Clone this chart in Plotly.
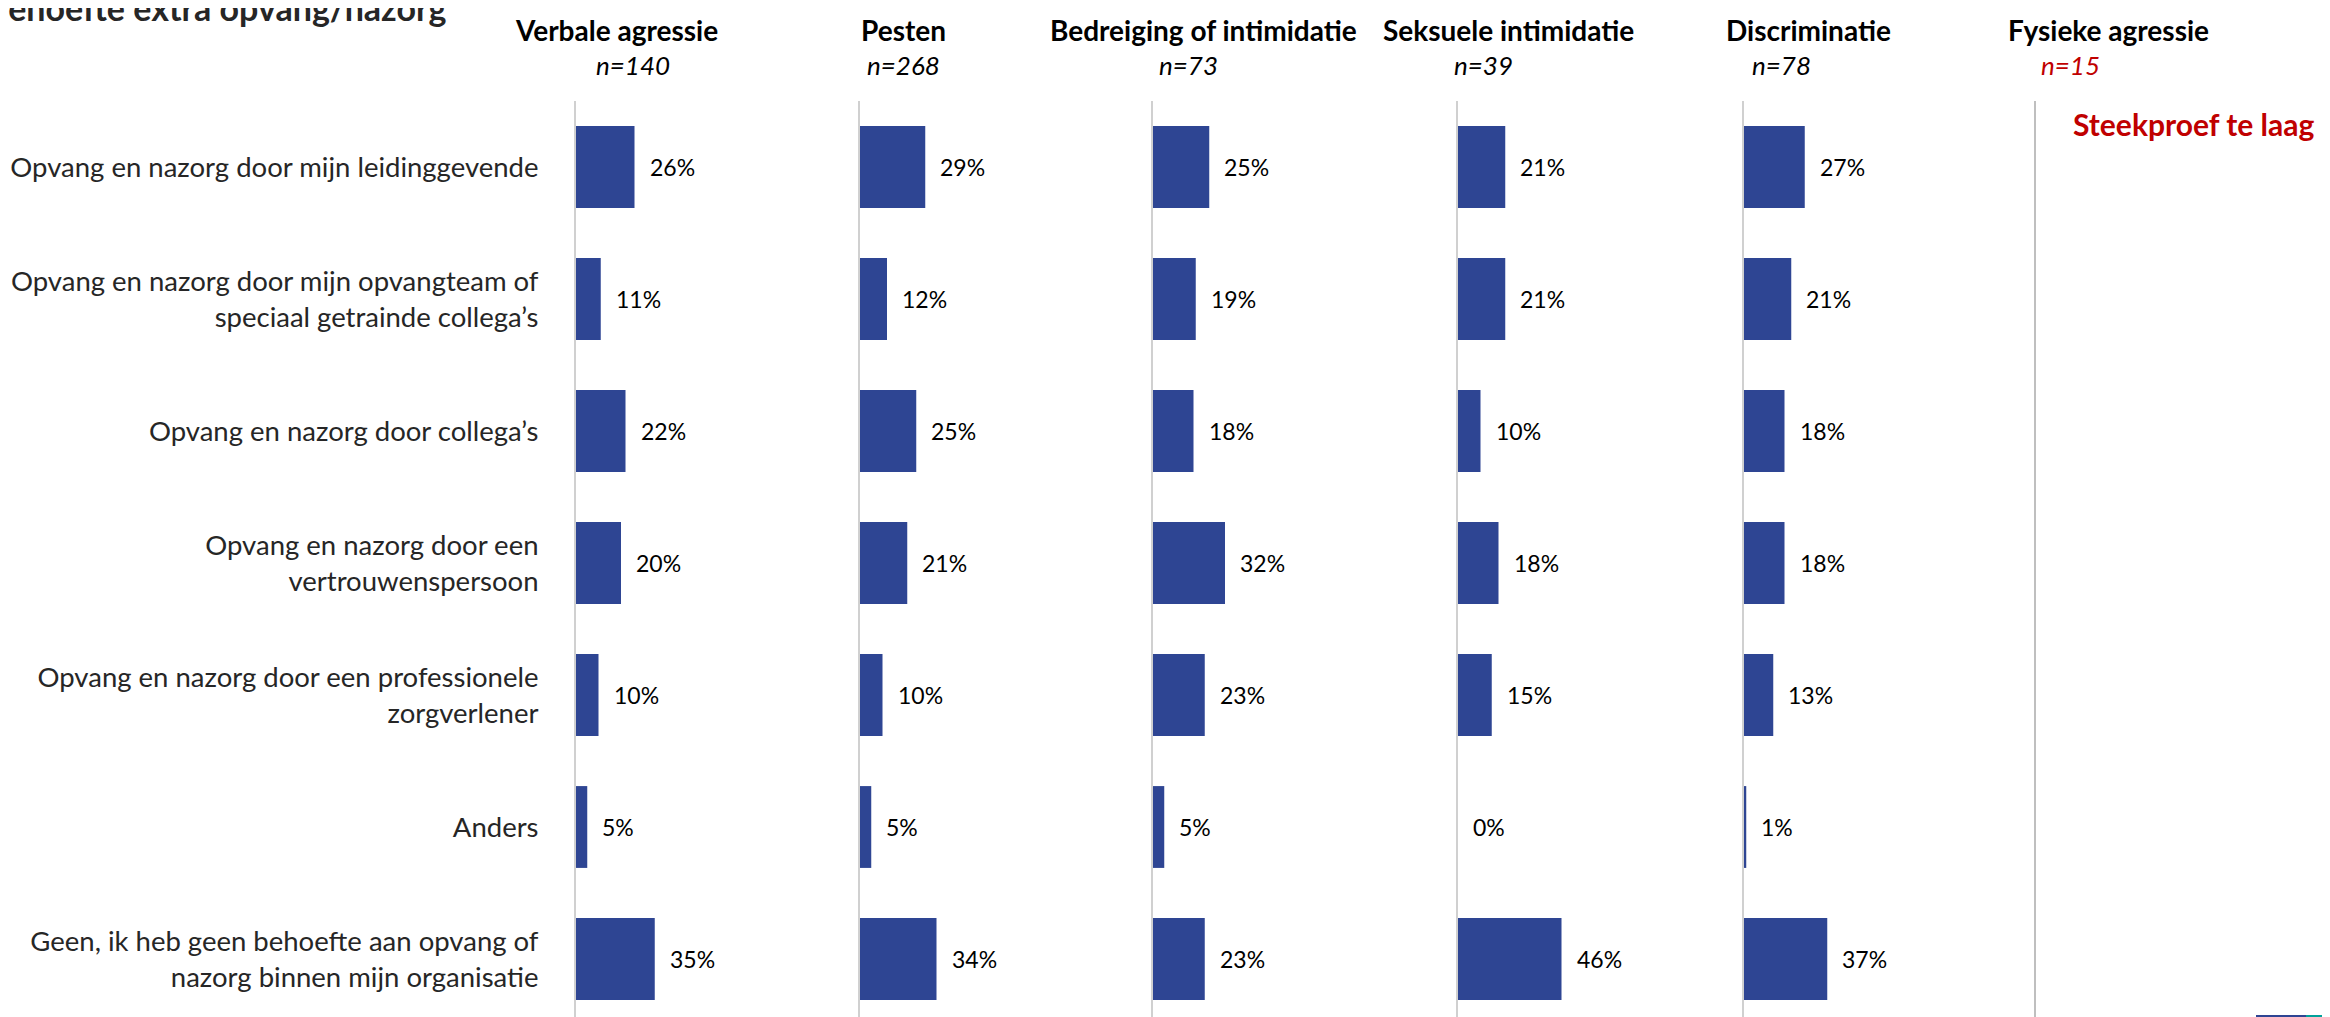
import plotly.graph_objects as go

categories = [
    "Opvang en nazorg door mijn leidinggevende",
    "Opvang en nazorg door mijn opvangteam of<br>speciaal getrainde collega’s",
    "Opvang en nazorg door collega’s",
    "Opvang en nazorg door een<br>vertrouwenspersoon",
    "Opvang en nazorg door een professionele<br>zorgverlener",
    "Anders",
    "Geen, ik heb geen behoefte aan opvang of<br>nazorg binnen mijn organisatie",
]
panels = ["Verbale agressie", "Pesten", "Bedreiging of intimidatie",
          "Seksuele intimidatie", "Discriminatie", "Fysieke agressie"]
sample_sizes = [140, 268, 73, 39, 78, 15]

verbale = [26, 11, 22, 20, 10, 5, 35]
pesten = [29, 12, 25, 21, 10, 5, 34]
bedreiging = [25, 19, 18, 32, 23, 5, 23]
seksueel = [21, 21, 10, 18, 15, 0, 46]
discriminatie = [27, 21, 18, 18, 13, 1, 37]
fysiek = None  # n=15: steekproef te laag

series = [verbale, pesten, bedreiging, seksueel, discriminatie, fysiek]

W, H = 2330, 1017
TOP = 93
axis_px = [568, 852, 1145, 1450, 1736, 2028]
header_px = [608, 895, 1195, 1500, 1800, 2100]
n_px = [625, 895, 1180, 1475, 1773, 2062]
panel_w = 250
px_per_pct = 2.25

FONT = "Lato"
BLUE = "#2E4593"
RED = "#C00000"


def py(p):
    # pixel row -> paper y
    return (H - p) / (H - TOP)


fig = go.Figure()
annotations = []

for i, vals in enumerate(series):
    k = "" if i == 0 else str(i + 1)
    xa, ya = "x" + k, "y" + k
    if vals is None:
        fig.add_trace(go.Bar(y=categories, x=[None] * len(categories), orientation="h",
                             xaxis=xa, yaxis=ya, showlegend=False, hoverinfo="skip"))
    else:
        fig.add_trace(go.Bar(y=categories, x=vals, orientation="h", xaxis=xa, yaxis=ya,
                             marker=dict(color=BLUE, line=dict(width=0)), showlegend=False))
        for c, v in zip(categories, vals):
            annotations.append(dict(x=v, y=c, xref=xa, yref=ya, text=f"{v}%", showarrow=False,
                                    xanchor="left", xshift=13,
                                    font=dict(family=FONT, size=23, color="#000000")))

    fig.layout["xaxis" + k] = dict(domain=[axis_px[i] / W, (axis_px[i] + panel_w) / W],
                                   range=[0, panel_w / px_per_pct], anchor=ya,
                                   showgrid=False, zeroline=False, showticklabels=False,
                                   showline=False, fixedrange=True)
    yax = dict(anchor=xa, type="category", showline=True,
               linecolor="#BFBFBF" if i == 5 else "#D0D0D0", linewidth=2,
               ticks="", showgrid=False, zeroline=False, showticklabels=(i == 0))
    if i == 0:
        yax.update(autorange="reversed", ticklabelstandoff=30,
                   tickfont=dict(family=FONT, size=27.5, color="#262626"))
    else:
        yax.update(matches="y")
    fig.layout["yaxis" + k] = yax

    annotations.append(dict(x=header_px[i] / W, y=py(22), xref="paper", yref="paper",
                            text=f"<b>{panels[i]}</b>", showarrow=False,
                            xanchor="center", yanchor="middle",
                            font=dict(family=FONT, size=28, color="#000000")))
    annotations.append(dict(x=n_px[i] / W, y=py(57), xref="paper", yref="paper",
                            text=f"<i>n={sample_sizes[i]}</i>", showarrow=False,
                            xanchor="center", yanchor="middle",
                            font=dict(family=FONT, size=26,
                                      color=RED if vals is None else "#000000")))

annotations.append(dict(x=2185 / W, y=py(116), xref="paper", yref="paper",
                        text="<b>Steekproef te laag</b>", showarrow=False,
                        xanchor="center", yanchor="middle",
                        font=dict(family=FONT, size=30, color=RED)))
annotations.append(dict(x=440 / W, y=py(22), xref="paper", yref="paper",
                        text="<b>Behoefte extra opvang/nazorg</b>", showarrow=False,
                        xanchor="right", yanchor="bottom",
                        font=dict(family=FONT, size=34, color="#262626")))

shapes = [
    dict(type="rect", xref="paper", yref="paper", x0=2248 / W, x1=2298 / W,
         y0=py(1017), y1=py(1007), fillcolor=BLUE, line=dict(width=0), layer="above"),
    dict(type="rect", xref="paper", yref="paper", x0=2298 / W, x1=2330 / W,
         y0=py(1017), y1=py(1007), fillcolor="#00A19A", line=dict(width=0), layer="above"),
]

fig.update_layout(
    width=W, height=H,
    margin=dict(l=0, r=0, t=TOP, b=0),
    bargap=0.38,
    plot_bgcolor="white", paper_bgcolor="white",
    annotations=annotations, shapes=shapes,
    font=dict(family=FONT),
)

fig.write_html("out.html")
